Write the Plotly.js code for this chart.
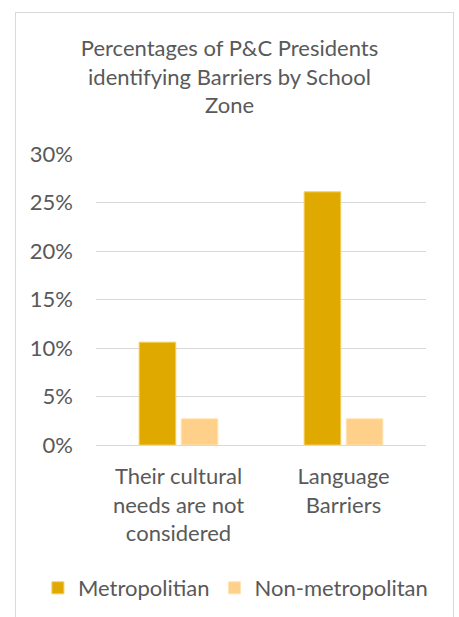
<!DOCTYPE html>
<html><head><meta charset="utf-8">
<script src="https://cdn.plot.ly/plotly-3.0.1.min.js"></script>
<style>
html,body{margin:0;padding:0;background:#fff;}
#wrap{position:relative;width:459px;height:617px;}
#frame{position:absolute;left:15px;top:12px;width:439px;height:620px;border:1px solid #d9d9d9;box-sizing:border-box;pointer-events:none;z-index:5;}
#chart{position:absolute;left:0;top:0;width:459px;height:617px;}
</style></head>
<body><div id="wrap"><div id="chart"></div><div id="frame"></div></div>
<script>
const categories = ["Their cultural needs are not considered", "Language Barriers"];
const categoryLabels = ["Their cultural<br>needs are not<br>considered", "Language<br>Barriers"];
const metropolitan = [10.6, 26.1];
const nonMetropolitan = [2.7, 2.7];
const seriesNames = ["Metropolitian", "Non-metropolitan"];
const yTicks = [0, 5, 10, 15, 20, 25, 30];
const yTickLabels = ["0%", "5%", "10%", "15%", "20%", "25%", "30%"];

const font = "Lato, 'Open Sans', sans-serif";
const fs = 22;
const traces = [
  {type:'bar', name:seriesNames[0], x:categories, y:metropolitan,
   marker:{color:'#E0A900', line:{color:'#F5CF5A', width:1}}, hoverinfo:'none'},
  {type:'bar', name:seriesNames[1], x:categories, y:nonMetropolitan,
   marker:{color:'#FFD08A', line:{color:'#FFE3B3', width:1}}, hoverinfo:'none'}
];
const layout = {
  width:459, height:617,
  margin:{l:96, r:33, t:154, b:172, autoexpand:false},
  paper_bgcolor:'rgba(0,0,0,0)', plot_bgcolor:'#fff',
  font:{family:font, color:'#595959', size:fs},
  title:{text:'Percentages of P&C Presidents<br>identifying Barriers by School<br>Zone',
         x:0.5, xanchor:'center', y:1 - 56/617, yref:'container', yanchor:'middle', pad:{t:0, b:0},
         font:{family:font, size:fs, color:'#595959'}},
  barmode:'group', bargap:0.49, bargroupgap:0.13,
  xaxis:{type:'category', tickvals:categories, ticktext:categoryLabels, showgrid:false,
         showline:false, ticks:'', ticklabelstandoff:16, tickfont:{size:fs, color:'#595959'}},
  yaxis:{range:[0,30], tickvals:yTicks, ticktext:yTickLabels, showgrid:true, gridcolor:'#d9d9d9',
         gridwidth:1, zeroline:true, zerolinecolor:'#d9d9d9', zerolinewidth:1, showline:false,
         ticks:'', ticklabelstandoff:22, tickfont:{size:fs, color:'#595959'}},
  showlegend:true,
  legend:{orientation:'h', x:-0.176, xanchor:'left', y:-(588-445)/291, yanchor:'middle',
          font:{size:fs, color:'#595959'}, itemwidth:30}
};
Plotly.newPlot('chart', traces, layout, {displayModeBar:false, staticPlot:true});
</script></body></html>
